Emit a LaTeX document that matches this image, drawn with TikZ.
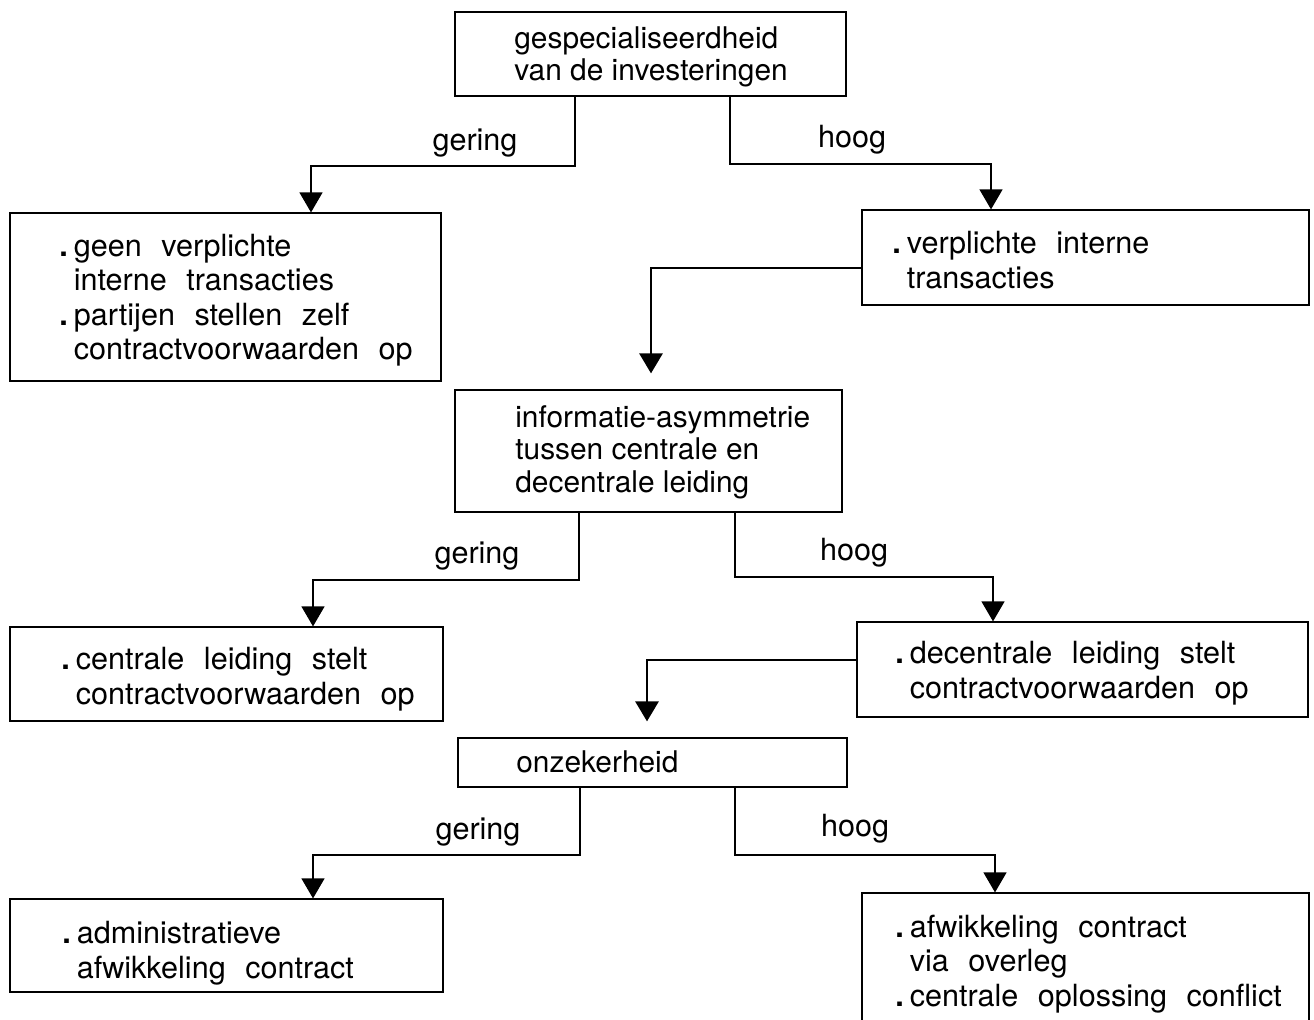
\documentclass[tikz,border=0pt]{standalone}
\usepackage{fontspec}
\setmainfont{TeX Gyre Heros}
\newfontfamily\bodyfont[WordSpace=2.3]{TeX Gyre Heros}
\usetikzlibrary{arrows.meta}
\newcommand\bul{\makebox[0.29cm][l]{\textbf{.}}}
\newcommand\myind{\hspace*{0.29cm}}
\begin{document}
\begin{tikzpicture}[x=0.02cm,y=-0.02cm,
  bx/.style 2 args={draw, line width=0.7pt, inner sep=0pt, minimum width=#1cm, minimum height=#2cm},
  txt/.style={anchor=west, align=left, inner sep=0pt, font=\fontsize{17}{18.6}\selectfont},
  btxt/.style={anchor=west, align=left, inner sep=0pt, font=\bodyfont\fontsize{17.4}{19.6}\selectfont},
  lbl/.style={inner sep=0pt, font=\bodyfont\fontsize{17.4}{20}\selectfont},
  conn/.style={line width=0.7pt, -{Triangle[width=0.46cm,length=0.4cm]}},
  feed/.style={line width=1.6pt, -{Triangle[width=0.46cm,length=0.4cm]}, shorten >=0.32cm}
]
\clip (0,0) rectangle (1314,1020);
\fill[white] (0,0) rectangle (1314,1020);

% boxes
\node[bx={7.82}{1.68}] (b1) at (650.5,54) {};
\node[bx={8.62}{3.36}] (b2) at (225.5,297) {};
\node[bx={8.94}{1.9}] (b3) at (1085.5,257.5) {};
\node[bx={7.74}{2.44}] (b4) at (648.5,451) {};
\node[bx={8.66}{1.88}] (b5) at (226.5,674) {};
\node[bx={9.02}{1.9}] (b6) at (1082.5,669.5) {};
\node[bx={7.78}{0.98}] (b7) at (652.5,762.5) {};
\node[bx={8.66}{1.86}] (b8) at (226.5,945.5) {};
\node[bx={8.94}{3.34}] (b9) at (1085.5,976.5) {};

% texts
\node[txt] (t1) at (514,57) {gespecialiseerdheid\\van de investeringen};
\node[btxt] (t2) at (59,300) {\bul geen verplichte\\\myind interne transacties\\\bul partijen stellen zelf\\\myind contractvoorwaarden op};
\node[btxt] (t3) at (892,260) {\bul verplichte interne\\\myind transacties};
\node[txt] (t4) at (515,452) {informatie-asymmetrie\\tussen centrale en\\decentrale leiding};
\node[btxt] (t5) at (61,679) {\bul centrale leiding stelt\\\myind contractvoorwaarden op};
\node[btxt] (t6) at (895,673) {\bul decentrale leiding stelt\\\myind contractvoorwaarden op};
\node[txt] (t7) at (516,762) {onzekerheid};
\node[btxt] (t8) at (62,953) {\bul administratieve\\\myind afwikkeling contract};
\node[btxt] (t9) at (895,964) {\bul afwikkeling contract\\\myind via overleg\\\bul centrale oplossing conflict};

% labels
\node[lbl] (g1) at (475,143) {gering};
\node[lbl] (h1) at (852,140) {hoog};
\node[lbl] (g2) at (477,556) {gering};
\node[lbl] (h2) at (854,553) {hoog};
\node[lbl] (g3) at (478,832) {gering};
\node[lbl] (h3) at (855,829) {hoog};

% connectors
\draw[conn] (575,0 |- b1.south) |- (311,166) -- (311,0 |- b2.north);
\draw[conn] (730,0 |- b1.south) |- (991,164) -- (991,0 |- b3.north);
\draw[feed] (b3.west |- 0,268) -| (651,0 |- b4.north);
\draw[conn] (579,0 |- b4.south) |- (313,580) -- (313,0 |- b5.north);
\draw[conn] (735,0 |- b4.south) |- (993,577) -- (993,0 |- b6.north);
\draw[feed] (b6.west |- 0,660) -| (647,0 |- b7.north);
\draw[conn] (580,0 |- b7.south) |- (313,855) -- (313,0 |- b8.north);
\draw[conn] (735,0 |- b7.south) |- (995,855) -- (995,0 |- b9.north);
\end{tikzpicture}
\end{document}
